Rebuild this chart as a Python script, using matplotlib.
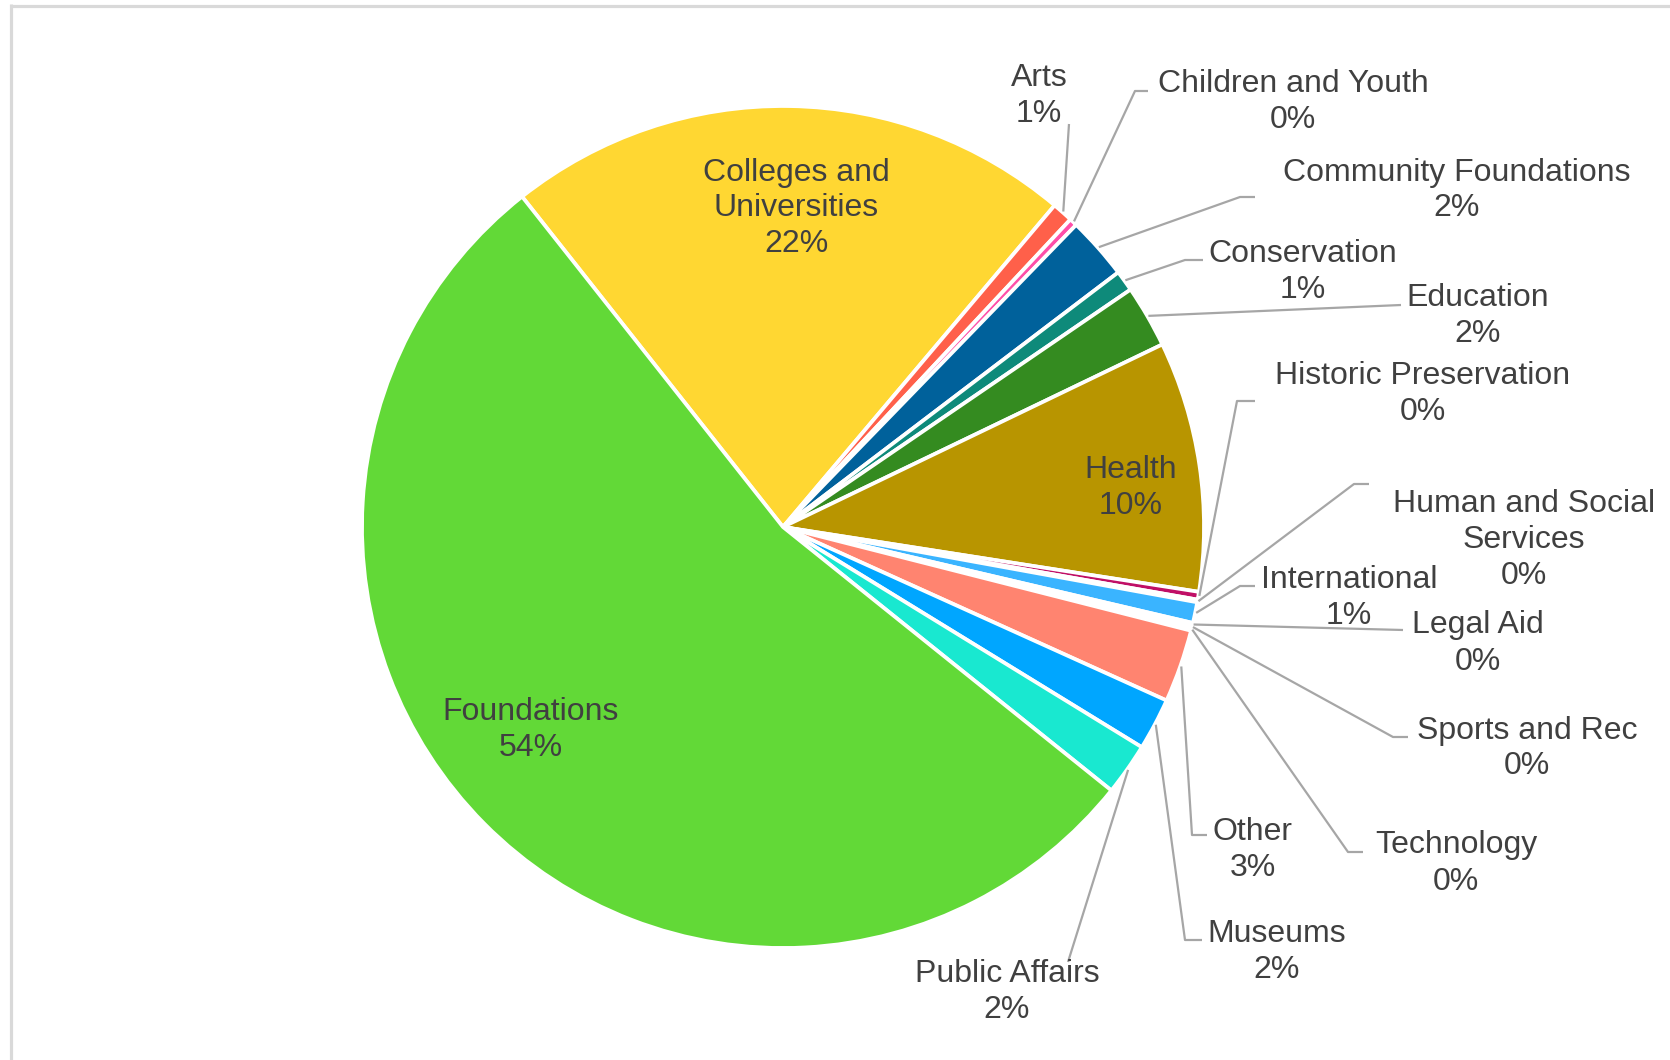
import numpy as np
import matplotlib
matplotlib.use("Agg")
import matplotlib.pyplot as plt

W, H = 1670, 1060

# ── data (percent of total) ───────────────────────────────────────────────────
categories = ["Colleges and\nUniversities", "Arts", "Children and Youth",
              "Community Foundations", "Conservation", "Education", "Health",
              "Historic Preservation", "Human and Social\nServices",
              "International", "Legal Aid", "Sports and Rec", "Technology",
              "Other", "Museums", "Public Affairs", "Foundations"]
shares = [21.8, 0.8, 0.3, 2.4, 0.8, 2.4, 9.6, 0.3, 0.1, 0.8, 0.1, 0.1, 0.1,
          2.8, 2.0, 2.0, 53.6]
colors = ["#FFD732", "#FF604A", "#FF4FA8", "#00619B", "#0E8A7A", "#348B20",
          "#B89500", "#C00F66", "#7030A0", "#3AB4FF", "#A0A0A0", "#FFC000",
          "#70AD47", "#FF8470", "#00A6FF", "#19E8D0", "#62D937"]

# ── layout (pixel positions, y measured from top) ─────────────────────────────
CX, CY, R = 783, 527, 421
label_xy = [(796, 205), (1039, 93), (1293, 98), (1457, 187), (1303, 269),
            (1478, 312), (1131, 484), (1423, 391), (1524, 537), (1349, 594),
            (1478, 640), (1527, 745), (1456, 860), (1253, 846), (1277, 948),
            (1007, 988), (531, 727)]
# leader line points from label side toward the pie (None = label inside)
leaders = [None,
           [(1069, 124)],
           [(1148, 91), (1135, 91)],
           [(1255, 197), (1240, 197)],
           [(1203, 260), (1185, 260)],
           [(1401, 305)],
           None,
           [(1255, 401), (1237, 401)],
           [(1369, 484), (1354, 484)],
           [(1255, 586), (1240, 586)],
           [(1403, 630)],
           [(1408, 737), (1393, 737)],
           [(1363, 852), (1348, 852)],
           [(1207, 835), (1192, 835)],
           [(1202, 940), (1185, 940)],
           [(1068, 962)],
           None]

FONT = "Liberation Sans"
TXT = "#404040"
LINE = "#A6A6A6"
FS = 23            # points at dpi 100 -> ~32 px em
CAP = 23           # cap height in px
PITCH = 36         # baseline to baseline in px

fig = plt.figure(figsize=(W / 100, H / 100), dpi=100, facecolor="white")
ax = fig.add_axes([0, 0, 1, 1])

wedges, _ = ax.pie(shares, colors=colors, startangle=128.3, counterclock=False,
                   center=(CX, H - CY), radius=R,
                   wedgeprops=dict(edgecolor="white", linewidth=2.7))
ax.set_xlim(0, W)
ax.set_ylim(0, H)
ax.set_aspect("equal")
ax.axis("off")


def label(x, y, text):
    lines = text.split("\n")
    top = y - ((len(lines) - 1) * PITCH + CAP) / 2
    for i, ln in enumerate(lines):
        base = top + CAP + i * PITCH
        ax.text(x, H - base, ln, ha="center", va="baseline", fontsize=FS,
                color=TXT, family=FONT, zorder=5)


for w, name, v, xy, pts in zip(wedges, categories, shares, label_xy, leaders):
    label(xy[0], xy[1], f"{name}\n{v:.0f}%")
    if pts is None:
        continue
    mid = np.deg2rad((w.theta1 + w.theta2) / 2)
    rim = (CX + (R + 1) * np.cos(mid), H - CY + (R + 1) * np.sin(mid))
    xs = [p[0] for p in pts] + [rim[0]]
    ys = [H - p[1] for p in pts] + [rim[1]]
    ax.plot(xs, ys, color=LINE, lw=1.6, solid_capstyle="butt", zorder=4)

# chart area border (top and left edges visible)
ax.plot([10, W], [H - 5.5, H - 5.5], color="#D9D9D9", lw=2.3, solid_capstyle="butt")
ax.plot([11, 11], [H - 4, 0], color="#D9D9D9", lw=2.3, solid_capstyle="butt")

fig.savefig("out.png", dpi=100, facecolor="white")
